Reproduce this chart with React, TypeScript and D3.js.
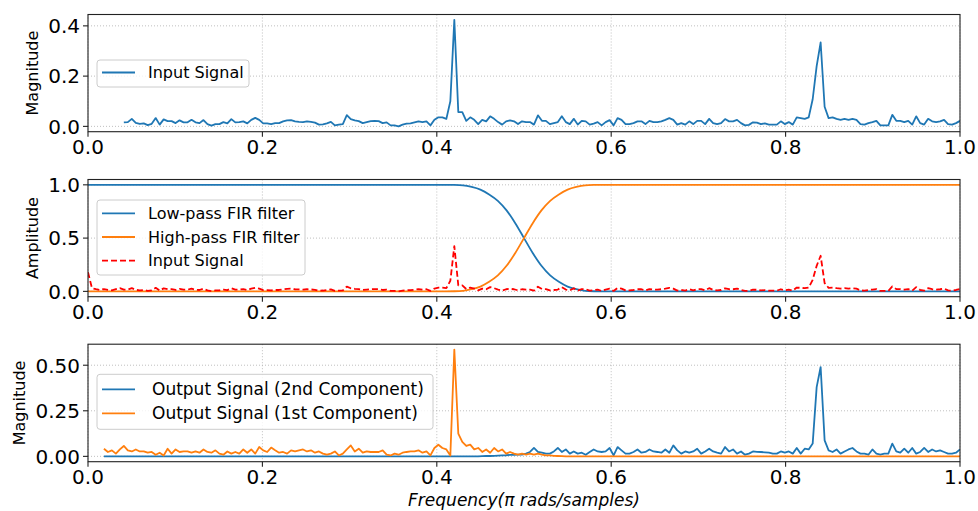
import React from "react";
import * as d3 from "d3";

// ---------- DATA ----------
// Frequencies on a uniform grid f = i / GRID_STEPS (in π rad/sample)
const GRID_STEPS = 219;
const TOP_START = 9; // first bin plotted in the top panel
const OUT_START = 4; // first bin of the output spectra

const inputSignal = [
  0.18, 0.03, 0.02, 0.012, 0.022, 0.015, 0.01, 0.02, 0.03,
  0.016, 0.017, 0.030, 0.014, 0.010, 0.012, 0.005, 0.010, 0.033, 0.007,
  0.028, 0.021, 0.021, 0.013, 0.024, 0.016, 0.016, 0.026, 0.016, 0.013,
  0.025, 0.009, 0.003, 0.009, 0.009, 0.017, 0.012, 0.029, 0.016, 0.017,
  0.020, 0.012, 0.026, 0.034, 0.026, 0.012, 0.012, 0.009, 0.013, 0.013,
  0.020, 0.024, 0.025, 0.020, 0.018, 0.017, 0.020, 0.018, 0.015, 0.007,
  0.008, 0.012, 0.018, 0.004, 0.007, 0.009, 0.045, 0.029, 0.024, 0.021,
  0.013, 0.017, 0.021, 0.022, 0.021, 0.013, 0.016, 0.004, 0.004, 0.000,
  0.007, 0.011, 0.012, 0.016, 0.020, 0.017, 0.020, 0.004, 0.026, 0.036,
  0.036, 0.030, 0.100, 0.424, 0.057, 0.057, 0.022, 0.036, 0.026, 0.009,
  0.026, 0.020, 0.040, 0.030, 0.017, 0.007, 0.020, 0.024, 0.020, 0.009,
  0.020, 0.017, 0.017, 0.007, 0.044, 0.022, 0.022, 0.009, 0.013, 0.017,
  0.040, 0.017, 0.009, 0.030, 0.007, 0.022, 0.020, 0.007, 0.011, 0.017,
  0.004, 0.017, 0.025, 0.004, 0.033, 0.026, 0.009, 0.009, 0.013, 0.020,
  0.020, 0.009, 0.022, 0.017, 0.017, 0.020, 0.026, 0.033, 0.026, 0.007,
  0.013, 0.007, 0.020, 0.009, 0.022, 0.022, 0.009, 0.030, 0.013, 0.009,
  0.013, 0.029, 0.020, 0.020, 0.026, 0.013, 0.004, 0.006, 0.016, 0.015,
  0.009, 0.012, 0.007, 0.007, 0.007, 0.020, 0.009, 0.017, 0.007, 0.036,
  0.033, 0.030, 0.036, 0.108, 0.240, 0.334, 0.078, 0.033, 0.036, 0.030,
  0.026, 0.030, 0.026, 0.030, 0.026, 0.009, 0.007, 0.013, 0.017, 0.022,
  0.004, 0.004, 0.004, 0.046, 0.022, 0.022, 0.017, 0.022, 0.007, 0.040,
  0.013, 0.007, 0.030, 0.020, 0.017, 0.020, 0.026, 0.009, 0.007, 0.013, 0.022,
];

// Output spectrum, 1st component (low-pass), bins OUT_START..GRID_STEPS
const output1st = [
  0.042, 0.024, 0.033, 0.015, 0.038, 0.057, 0.033, 0.027, 0.038, 0.027,
  0.027, 0.020, 0.024, 0.009, 0.020, 0.005, 0.042, 0.015, 0.038, 0.024,
  0.027, 0.027, 0.020, 0.027, 0.020, 0.038, 0.024, 0.020, 0.033, 0.015,
  0.009, 0.027, 0.015, 0.024, 0.015, 0.038, 0.020, 0.038, 0.015, 0.051,
  0.033, 0.024, 0.048, 0.033, 0.020, 0.024, 0.015, 0.033, 0.027, 0.033,
  0.038, 0.027, 0.033, 0.020, 0.027, 0.015, 0.009, 0.015, 0.027, 0.005,
  0.015, 0.038, 0.060, 0.027, 0.042, 0.020, 0.027, 0.024, 0.024, 0.024,
  0.033, 0.009, 0.005, 0.015, 0.009, 0.020, 0.024, 0.027, 0.027, 0.033,
  0.020, 0.027, 0.005, 0.046, 0.064, 0.046, 0.038, 0.005, 0.586, 0.125,
  0.079, 0.057, 0.064, 0.038, 0.046, 0.024, 0.038, 0.020, 0.046, 0.027,
  0.038, 0.015, 0.024, 0.015, 0.009, 0.015, 0.009, 0.015, 0.009, 0.015,
  0.009, 0.005, 0.005, 0.003, 0.002, 0.001, 0, 0, 0, 0,
  0, 0, 0, 0, 0, 0, 0, 0, 0, 0, 0, 0, 0, 0, 0, 0,
  0, 0, 0, 0, 0, 0, 0, 0, 0, 0, 0, 0, 0, 0, 0, 0,
  0, 0, 0, 0, 0, 0, 0, 0, 0, 0, 0, 0, 0, 0, 0, 0,
  0, 0, 0, 0, 0, 0, 0, 0, 0, 0, 0, 0, 0, 0, 0, 0,
  0, 0, 0, 0, 0, 0, 0, 0, 0, 0, 0, 0, 0, 0, 0, 0,
  0, 0, 0, 0, 0, 0, 0, 0, 0, 0, 0, 0, 0, 0, 0, 0,
];

// Output spectrum, 2nd component (high-pass), bins OUT_START..GRID_STEPS
const output2nd = [
  0, 0, 0, 0, 0, 0, 0, 0, 0, 0, 0, 0, 0, 0, 0, 0, 0, 0, 0,
  0, 0, 0, 0, 0, 0, 0, 0, 0, 0, 0, 0, 0, 0, 0, 0, 0, 0, 0,
  0, 0, 0, 0, 0, 0, 0, 0, 0, 0, 0, 0, 0, 0, 0, 0, 0, 0, 0,
  0, 0, 0, 0, 0, 0, 0, 0, 0, 0, 0, 0, 0, 0, 0, 0, 0, 0, 0,
  0, 0, 0, 0, 0, 0, 0, 0, 0, 0, 0, 0, 0, 0, 0, 0, 0, 0, 0,
  0.001, 0.002, 0.002, 0.003, 0.004, 0.005, 0.006, 0.008, 0.008, 0.010,
  0.010, 0.015, 0.024, 0.046, 0.024, 0.020, 0.015, 0.015, 0.027, 0.046,
  0.024, 0.038, 0.015, 0.027, 0.015, 0.020, 0.009, 0.024, 0.038, 0.027,
  0.024, 0.027, 0.046, 0.005, 0.051, 0.033, 0.015, 0.015, 0.024, 0.038,
  0.020, 0.024, 0.038, 0.027, 0.024, 0.020, 0.038, 0.020, 0.060, 0.033,
  0.015, 0.027, 0.020, 0.027, 0.042, 0.015, 0.027, 0.042, 0.027, 0.020,
  0.015, 0.051, 0.027, 0.038, 0.015, 0.027, 0.009, 0.015, 0.027, 0.025,
  0.024, 0.022, 0.020, 0.015, 0.015, 0.027, 0.020, 0.027, 0.015, 0.046,
  0.015, 0.042, 0.038, 0.070, 0.380, 0.490, 0.088, 0.033, 0.024, 0.038,
  0.015, 0.027, 0.038, 0.046, 0.027, 0.015, 0.015, 0.009, 0.038, 0.015,
  0.009, 0.015, 0.015, 0.070, 0.027, 0.020, 0.042, 0.020, 0.046, 0.015,
  0.024, 0.046, 0.024, 0.038, 0.027, 0.033, 0.024, 0.015, 0.015, 0.020, 0.038,
];

// FIR filter responses
const filterFreq = [0, 0.1, 0.2, 0.3, 0.4, 0.41, 0.42, 0.43, 0.44, 0.45, 0.46, 0.47, 0.48, 0.49, 0.5,
  0.51, 0.52, 0.53, 0.54, 0.55, 0.56, 0.57, 0.58, 0.59, 0.6, 0.7, 0.8, 0.9, 1.0];
const lowPass = [1, 1, 1, 1, 1, 1, 0.999, 0.995, 0.98, 0.955, 0.91, 0.85, 0.76, 0.64, 0.5,
  0.36, 0.24, 0.15, 0.09, 0.045, 0.02, 0.005, 0.001, 0, 0, 0, 0, 0, 0];
const highPass = [0, 0, 0, 0, 0, 0, 0.001, 0.005, 0.02, 0.045, 0.09, 0.15, 0.24, 0.36, 0.5,
  0.64, 0.76, 0.85, 0.91, 0.955, 0.98, 0.995, 0.999, 1, 1, 1, 1, 1, 1];

const xTicks = [0, 0.2, 0.4, 0.6, 0.8, 1.0];
const yTicksTop = [0, 0.2, 0.4];
const yTicksMid = [0, 0.5, 1.0];
const yTicksBot = [0, 0.25, 0.5];

// ---------- HELPERS ----------
type Pt = [number, number];
const gridSeries = (vals: number[], startBin: number): Pt[] =>
  vals.map((v, k) => [(startBin + k) / GRID_STEPS, v] as Pt);

const C0 = "#1f77b4";
const C1 = "#ff7f0e";
const FONT = "DejaVu Sans, sans-serif";
const X0 = 88;
const X1 = 960;

type Series = { pts: Pt[]; color: string; dash?: string; smooth?: boolean };
type LegendSpec = { x: number; y: number; w: number; h: number; first: number; step: number; font: number; textX: number; items: { label: string; color: string; dash?: string }[] };

function Panel(props: {
  id: string; top: number; bottom: number; yTicks: number[]; yFmt: string;
  ylabel: string; ylabelX: number; series: Series[]; legend: LegendSpec;
}) {
  const { id, top, bottom, yTicks, yFmt, ylabel, ylabelX, series, legend } = props;
  const allY = series.flatMap((s) => s.pts.map((p) => p[1]));
  const [lo, hi] = d3.extent(allY) as [number, number];
  const pad = (hi - lo) * 0.05;
  const x = d3.scaleLinear().domain([0, 1]).range([X0, X1]);
  const y = d3.scaleLinear().domain([lo - pad, hi + pad]).range([bottom, top]);
  const fmt = d3.format(yFmt);
  const gridStyle = { stroke: "#b0b0b0", strokeWidth: 0.8, strokeDasharray: "1,2" };
  return (
    <g>
      <defs>
        <clipPath id={id}>
          <rect x={X0} y={top} width={X1 - X0} height={bottom - top} />
        </clipPath>
      </defs>
      {xTicks.map((t) => (
        <line key={"gx" + t} x1={x(t)} x2={x(t)} y1={top} y2={bottom} style={gridStyle} />
      ))}
      {yTicks.map((t) => (
        <line key={"gy" + t} x1={X0} x2={X1} y1={y(t)} y2={y(t)} style={gridStyle} />
      ))}
      <g clipPath={`url(#${id})`}>
        {series.map((s, i) => {
          const line = d3
            .line<Pt>()
            .x((d) => x(d[0]))
            .y((d) => y(d[1]))
            .curve(s.smooth ? d3.curveMonotoneX : d3.curveLinear);
          return (
            <path key={i} d={line(s.pts) || ""} fill="none" stroke={s.color} strokeWidth={1.8}
              strokeDasharray={s.dash} strokeLinejoin="round" />
          );
        })}
      </g>
      <rect x={X0} y={top} width={X1 - X0} height={bottom - top} fill="none" stroke="#222" strokeWidth={1.1} />
      {xTicks.map((t) => (
        <g key={"tx" + t}>
          <line x1={x(t)} x2={x(t)} y1={bottom} y2={bottom + 5} stroke="#222" strokeWidth={1.1} />
          <text x={x(t)} y={bottom + 22} textAnchor="middle" fontSize={20} fontFamily={FONT} fill="#000">
            {t.toFixed(1)}
          </text>
        </g>
      ))}
      {yTicks.map((t) => (
        <g key={"ty" + t}>
          <line x1={X0 - 5} x2={X0} y1={y(t)} y2={y(t)} stroke="#222" strokeWidth={1.1} />
          <text x={X0 - 8} y={y(t) + 7.3} textAnchor="end" fontSize={20} fontFamily={FONT} fill="#000">
            {fmt(t)}
          </text>
        </g>
      ))}
      <text transform={`translate(${ylabelX},${(top + bottom) / 2}) rotate(-90)`} textAnchor="middle"
        fontSize={16} fontFamily={FONT} fill="#000">
        {ylabel}
      </text>
      <g>
        <rect x={legend.x} y={legend.y} width={legend.w} height={legend.h} rx={3} ry={3}
          fill="#fff" fillOpacity={0.8} stroke="#cccccc" strokeWidth={1} />
        {legend.items.map((it, i) => {
          const ry = legend.y + legend.first + i * legend.step;
          return (
            <g key={it.label}>
              <line x1={legend.x + 5} x2={legend.x + 38} y1={ry} y2={ry} stroke={it.color} strokeWidth={1.8}
                strokeDasharray={it.dash} />
              <text x={legend.textX} y={ry + legend.font * 0.36} fontSize={legend.font} fontFamily={FONT} fill="#000">
                {it.label}
              </text>
            </g>
          );
        })}
      </g>
    </g>
  );
}

export default function App() {
  const inputTop = gridSeries(inputSignal.slice(TOP_START), TOP_START);
  const inputAll = gridSeries(inputSignal, 0);
  const lp = filterFreq.map((f, i) => [f, lowPass[i]] as Pt);
  const hp = filterFreq.map((f, i) => [f, highPass[i]] as Pt);
  const o1 = gridSeries(output1st, OUT_START);
  const o2 = gridSeries(output2nd, OUT_START);

  return (
    <svg width={978} height={511} style={{ position: "absolute", left: 0, top: 0, background: "#fff" }}>
      <rect width={978} height={511} fill="#fff" />
      <Panel id="c1" top={14.5} bottom={131.7} yTicks={yTicksTop} yFmt=".1f" ylabel="Magnitude" ylabelX={38}
        series={[{ pts: inputTop, color: C0 }]}
        legend={{ x: 97, y: 60, w: 152, h: 27, first: 12.5, step: 23.7, font: 16, textX: 148,
          items: [{ label: "Input Signal", color: C0 }] }} />
      <Panel id="c2" top={179.5} bottom={296.7} yTicks={yTicksMid} yFmt=".1f" ylabel="Amplitude" ylabelX={38}
        series={[
          { pts: lp, color: C0, smooth: true },
          { pts: hp, color: C1, smooth: true },
          { pts: inputAll, color: "#ff0000", dash: "6,3" },
        ]}
        legend={{ x: 97, y: 200, w: 208, h: 75, first: 13.3, step: 23.7, font: 16, textX: 148,
          items: [
            { label: "Low-pass FIR filter", color: C0 },
            { label: "High-pass FIR filter", color: C1 },
            { label: "Input Signal", color: "#ff0000", dash: "6,3" },
          ] }} />
      <Panel id="c3" top={344.2} bottom={461.7} yTicks={yTicksBot} yFmt=".2f" ylabel="Magnitude" ylabelX={24.5}
        series={[{ pts: o2, color: C0 }, { pts: o1, color: C1 }]}
        legend={{ x: 97, y: 374.3, w: 336, h: 55, first: 15, step: 24, font: 17, textX: 152,
          items: [
            { label: "Output Signal (2nd Component)", color: C0 },
            { label: "Output Signal (1st Component)", color: C1 },
          ] }} />
      <text x={(X0 + X1) / 2} y={506} textAnchor="middle" fontSize={17} fontStyle="italic" fontFamily={FONT} fill="#000">
        Frequency(π rads/samples)
      </text>
    </svg>
  );
}
